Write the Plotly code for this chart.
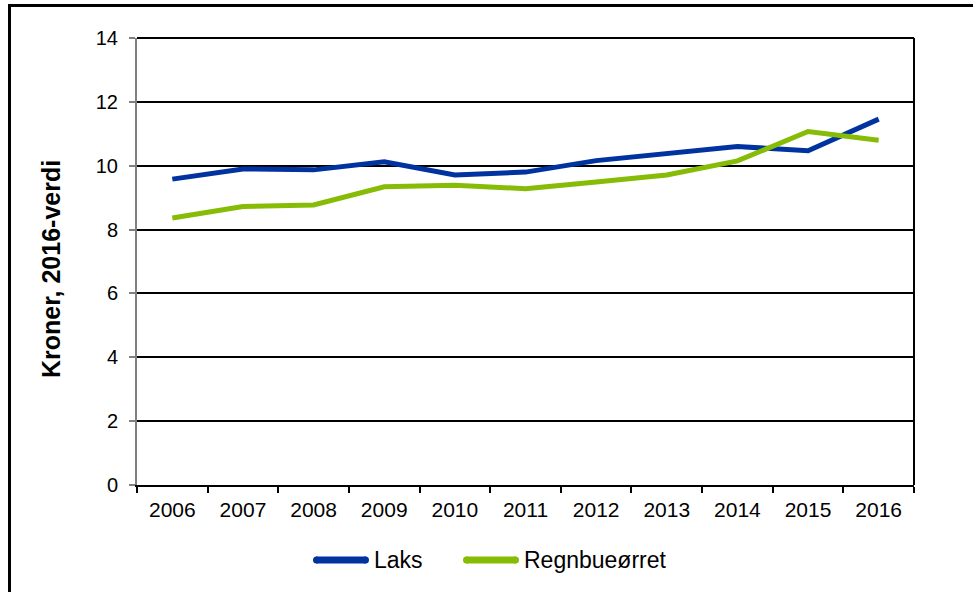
import plotly.graph_objects as go

years = ["2006", "2007", "2008", "2009", "2010", "2011", "2012", "2013", "2014", "2015", "2016"]
laks = [9.58, 9.90, 9.87, 10.12, 9.71, 9.80, 10.16, 10.37, 10.60, 10.47, 11.46]
regnbue = [8.36, 8.72, 8.77, 9.34, 9.39, 9.28, 9.49, 9.71, 10.15, 11.07, 10.80]
y_ticks = [0, 2, 4, 6, 8, 10, 12, 14]
series_names = ["Laks", "Regnbueørret"]
series_colors = ["#0033A0", "#86BC06"]

W, H = 973, 592
L, R, T, B = 137, 59, 38, 107
pw, ph = W - L - R, H - T - B

def px(x):
    return (x - L) / pw

def py(y):
    return (H - B - y) / ph

fig = go.Figure()
for name, vals, col in zip(series_names, [laks, regnbue], series_colors):
    fig.add_trace(go.Scatter(x=years, y=vals, mode="lines", name=name,
                             line=dict(color=col, width=5), showlegend=False))

fig.update_layout(
    width=W, height=H,
    margin=dict(l=L, r=R, t=T, b=B),
    paper_bgcolor="white", plot_bgcolor="white",
    font=dict(family="Liberation Sans, Arial, sans-serif", color="black", size=20),
    showlegend=False,
    xaxis=dict(type="category", range=[-0.5, len(years) - 0.5], tickson="boundaries",
               ticks="outside", ticklen=6, ticklabelstandoff=5,
               tickcolor="black", tickwidth=2, showline=True, linecolor="black",
               linewidth=2, showgrid=False, tickfont=dict(size=21)),
    yaxis=dict(range=[0, 14], tickvals=y_ticks, ticks="outside", ticklen=6,
               ticklabelstandoff=7,
               tickcolor="#808080", tickwidth=2, showline=True, linecolor="#808080",
               linewidth=2, showgrid=True, gridcolor="black", gridwidth=2,
               zeroline=False, tickfont=dict(size=20)),
)

# y-axis title
fig.add_annotation(text="<b>Kroner, 2016-verdi</b>", xref="paper", yref="paper",
                   x=px(51), y=py(269), xanchor="center", yanchor="middle",
                   textangle=-90, showarrow=False,
                   font=dict(size=25, color="black", family="Liberation Sans, Arial, sans-serif"))

# top and right border of plot area
fig.add_shape(type="line", xref="paper", yref="paper", x0=0, x1=1, y0=1, y1=1,
              line=dict(color="black", width=2))
fig.add_shape(type="line", xref="paper", yref="paper", x0=1, x1=1, y0=0, y1=1,
              line=dict(color="black", width=2))
# outer chart-area frame (partially visible)
fig.add_shape(type="line", xref="paper", yref="paper", x0=px(9), x1=px(980), y0=py(5.5), y1=py(5.5),
              line=dict(color="black", width=3))
fig.add_shape(type="line", xref="paper", yref="paper", x0=px(9.5), x1=px(9.5), y0=py(4), y1=py(600),
              line=dict(color="black", width=3))
# clipped title descender
fig.add_annotation(text="j", xref="paper", yref="paper", x=px(492), y=py(-5),
                   xanchor="center", yanchor="bottom", showarrow=False,
                   font=dict(size=22, color="black"))

# custom legend
leg = [(313, 369, 372), (463, 519, 522)]
for (x0, x1, xt), name, col in zip(leg, series_names, series_colors):
    fig.add_shape(type="line", xref="paper", yref="paper", x0=px(x0 + 3), x1=px(x1 - 3),
                  y0=py(560), y1=py(560), line=dict(color=col, width=7))
    fig.add_shape(type="circle", xref="paper", yref="paper", x0=px(x0), x1=px(x0 + 7),
                  y0=py(556.5), y1=py(563.5), fillcolor=col, line=dict(width=0))
    fig.add_shape(type="circle", xref="paper", yref="paper", x0=px(x1 - 7), x1=px(x1),
                  y0=py(556.5), y1=py(563.5), fillcolor=col, line=dict(width=0))
    fig.add_annotation(text=name, xref="paper", yref="paper", x=px(xt), y=py(560),
                       xanchor="left", yanchor="middle", showarrow=False,
                       font=dict(size=23, color="black"))

fig.write_html("out.html", config={"displayModeBar": False},
               post_script="document.body.style.margin='0';")
